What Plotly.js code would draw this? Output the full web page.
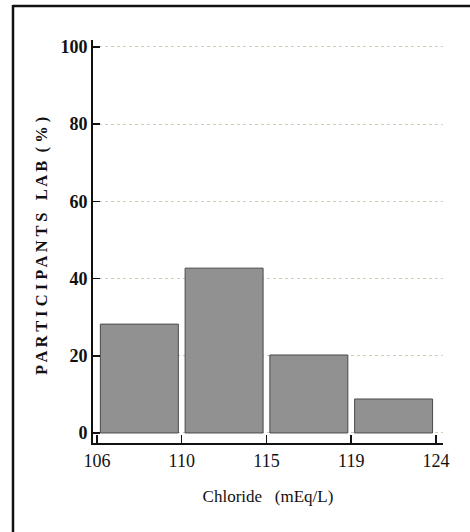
<!DOCTYPE html>
<html>
<head>
<meta charset="utf-8">
<script src="https://cdn.plot.ly/plotly-3.0.1.min.js"></script>
<style>html,body{margin:0;padding:0;background:#fff;}#chart{width:470px;height:532px;}</style>
</head>
<body>
<div id="chart"></div>
<script>
// Data
var binEdges = ["106", "110", "115", "119", "124"];
var percentages = [28.2, 42.7, 20.2, 8.8];
var yTickVals = [0, 20, 40, 60, 80, 100];
var xTitle = "Chloride   (mEq/L)";
var yTitle = "P A R T I C I P A N T S   L A B  ( % )";

var W = 470, H = 532;
var L = 93, R = 443, T = 40, B = 443;
function px(x) { return (x - L) / (R - L); }
function py(y) { return (B - y) / (B - T); }

var serif = "Liberation Serif, Times New Roman, serif";

var trace = {
  type: "bar",
  x: percentages.map(function (v, i) { return i + 0.5; }),
  y: percentages,
  width: 0.92,
  marker: { color: "#919191", line: { color: "#4a4a4a", width: 1 } },
  hoverinfo: "skip"
};

var layout = {
  width: W, height: H,
  margin: { l: L, r: W - R, t: T, b: H - B, pad: 0 },
  paper_bgcolor: "#ffffff",
  plot_bgcolor: "rgba(0,0,0,0)",
  showlegend: false,
  bargap: 0,
  xaxis: {
    range: [-0.047, 4.083],
    tickvals: binEdges.map(function (v, i) { return i; }),
    ticktext: binEdges,
    ticks: "inside", ticklen: 8, tickwidth: 1.5, tickcolor: "#111",
    showline: true, linewidth: 2, linecolor: "#111",
    showgrid: false, zeroline: false,
    tickfont: { family: serif, size: 18, color: "#111" },
    title: { text: xTitle, font: { family: serif, size: 17, color: "#111" }, standoff: 21 },
    fixedrange: true
  },
  yaxis: {
    range: [-2.6, 101.8],
    tickvals: yTickVals,
    ticks: "inside", ticklen: 7, tickwidth: 1.5, tickcolor: "#111",
    showline: true, linewidth: 2, linecolor: "#111",
    showgrid: true, gridcolor: "#d2cdb0", griddash: "dot", gridwidth: 1,
    zeroline: false,
    tickfont: { family: serif, size: 18, color: "#111", weight: "bold" },
    fixedrange: true
  },
  annotations: [{
    xref: "paper", yref: "paper",
    x: px(42), y: py(246),
    text: "<b>" + yTitle + "</b>",
    textangle: -90, showarrow: false,
    font: { family: serif, size: 16.5, color: "#111" },
    xanchor: "center", yanchor: "middle"
  }],
  shapes: [
    { type: "line", xref: "paper", yref: "paper", x0: px(13), x1: px(475), y0: py(6), y1: py(6), line: { color: "#111", width: 2.5 } },
    { type: "line", xref: "paper", yref: "paper", x0: px(13), x1: px(13), y0: py(5), y1: py(540), line: { color: "#111", width: 2.5 } }
  ]
};

Plotly.newPlot("chart", [trace], layout, { staticPlot: true, displayModeBar: false });
</script>
</body>
</html>
